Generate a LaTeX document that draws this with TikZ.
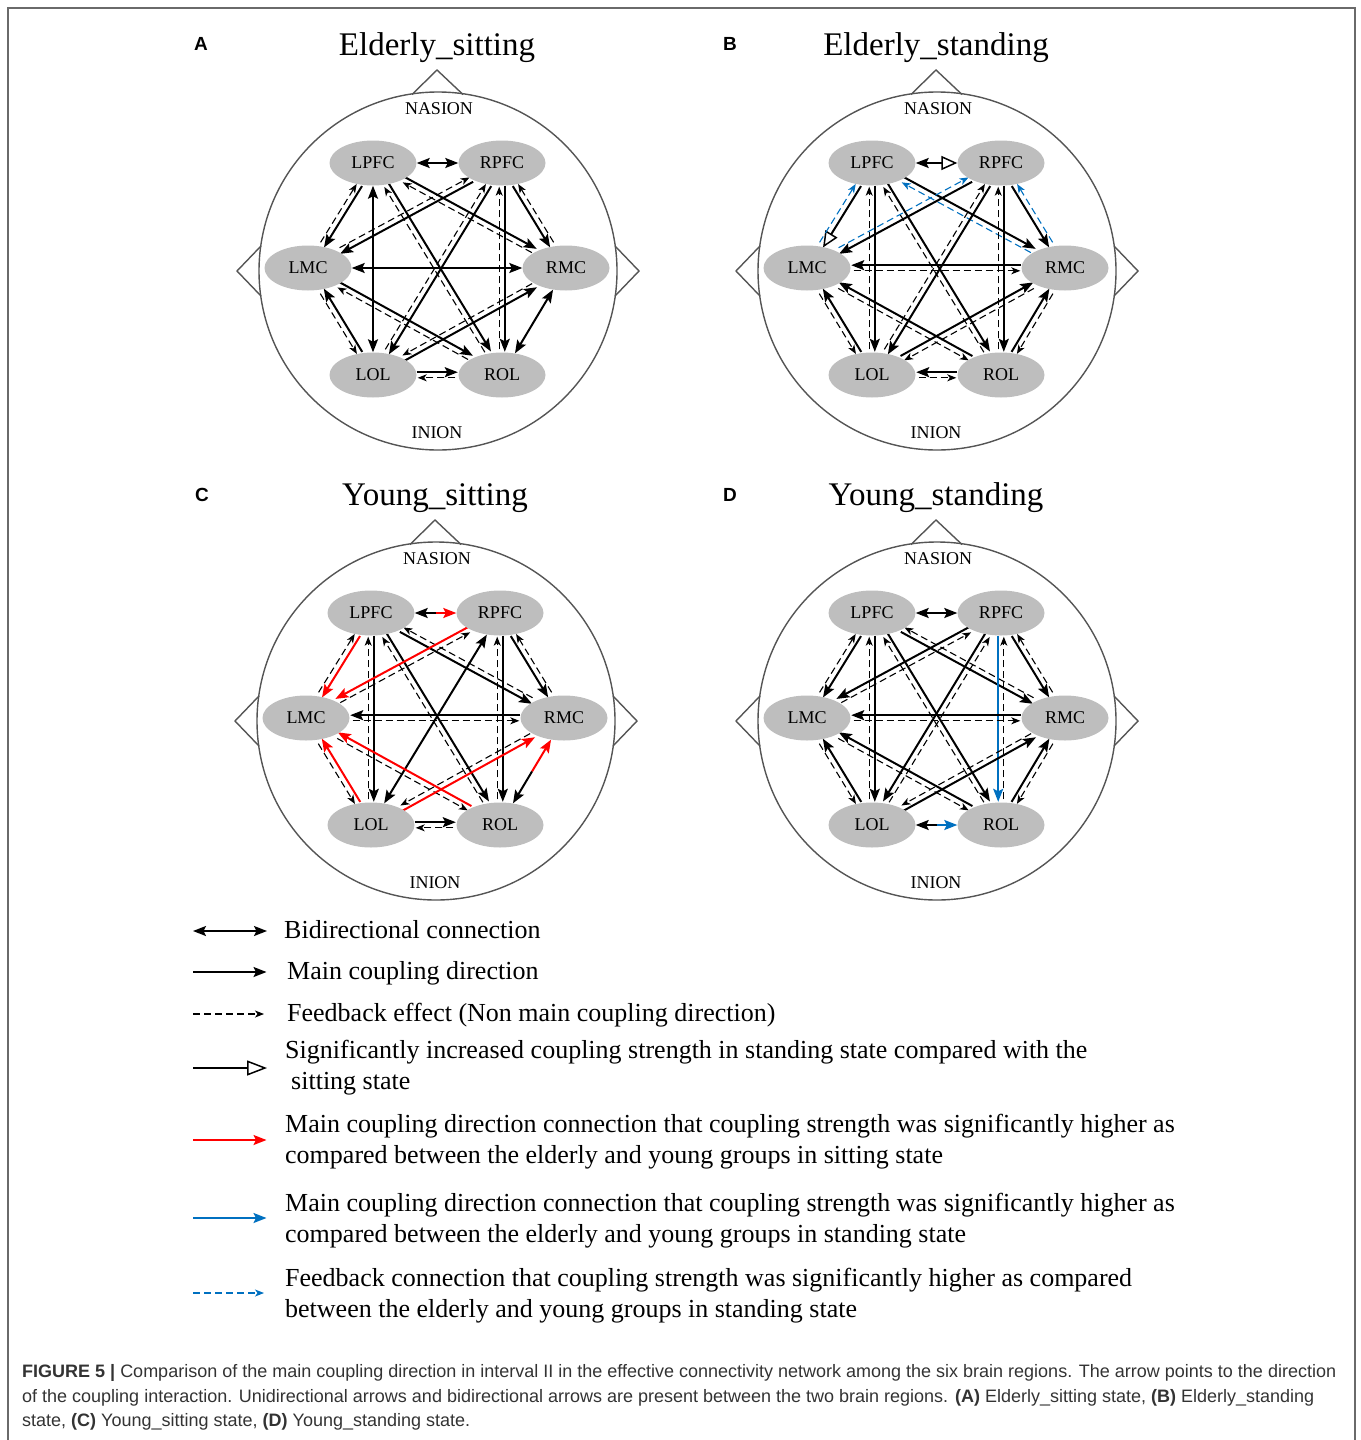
\documentclass[tikz,border=0pt]{standalone}
\usepackage{fontspec}
\setmainfont{Liberation Serif}
\setsansfont{Liberation Sans}
\usetikzlibrary{arrows.meta,calc,shapes.geometric,backgrounds}
\definecolor{nodegray}{HTML}{BEBEBE}
\definecolor{headgray}{HTML}{555555}
\definecolor{framegray}{HTML}{6A6A6A}
\definecolor{sigred}{HTML}{FF0000}
\definecolor{sigblue}{HTML}{0070C0}
\definecolor{captxt}{HTML}{333333}
\tikzset{
  region/.style={ellipse, fill=nodegray, minimum width=87pt, minimum height=45pt, inner sep=0pt, font=\fontsize{18}{20}\selectfont},
  headln/.style={draw=headgray, line width=1.4pt},
  landmark/.style={inner sep=0pt, font=\fontsize{18}{20}\selectfont},
  titletx/.style={inner sep=0pt, font=\fontsize{33}{36}\selectfont},
  panlet/.style={inner sep=0pt, font=\sffamily\bfseries\fontsize{19}{22}\selectfont},
  maintip/.tip={Stealth[length=13pt,width=10pt,inset=2.5pt]},
  fbtip/.tip={Stealth[length=9pt,width=7pt,inset=2.5pt]},
  mainln/.style={line width=2pt, -maintip, shorten >=0.5pt},
  fbln/.style={line width=1.1pt, dash pattern=on 7pt off 4pt, -fbtip, shorten <=3pt, shorten >=1pt},
  biarr/.style={line width=2pt, maintip-maintip},
  halfarr/.style={line width=2pt, -maintip},
  hollowtip/.style={-{Triangle[open,fill=white,length=16pt,width=14pt,line width=1.5pt]}},
  legtx/.style={anchor=base west, inner sep=0pt, font=\fontsize{26}{31}\selectfont},
  captx/.style={anchor=base west, inner sep=0pt, text=captxt, font=\sffamily\fontsize{18}{24}\selectfont},
}
% main arrow #1->#2 (style #3) with feedback #2->#1 (style #4); #5 = side of feedback (+1 left, -1 right)
\newcommand\pairln[5]{%
  \pgfmathsetmacro\offS{-2.8*#5}%
  \pgfmathsetmacro\offD{2.8*#5}%
  \path (#1) -- coordinate[pos=0] (ps) coordinate[pos=1] (pe) (#2);
  \draw[mainln,#3] ($(ps)!{\offS pt}!90:(pe)$) -- ($(pe)!{\offS pt}!-90:(ps)$);
  \draw[fbln,#4] ($(pe)!{\offD pt}!-90:(ps)$) -- ($(ps)!{\offD pt}!90:(pe)$);
}
\newcommand\biln[3][]{\draw[biarr,#1] (#2) -- (#3);}
\newcommand\bihalf[4]{%
  \path (#1) -- coordinate[pos=0] (ps) coordinate[pos=0.5] (pm) coordinate[pos=1] (pe) (#2);
  \draw[halfarr,#3] (pm) -- (ps);
  \draw[halfarr,#4] (pm) -- (pe);
}
\newcommand\headpanel[1]{%
  \draw[headln] (438,271) circle[radius=179pt];
  \draw[headln] (412,94.5) -- (437,70) -- (463,94.5);
  \draw[headln] (261,246) -- (237,271) -- (261,296);
  \draw[headln] (615,246) -- (639,271) -- (615,296);
  \node[landmark, anchor=base] (nasion) at (439,114) {NASION};
  \node[landmark, anchor=base] (inion) at (437,438) {INION};
  \node[titletx, anchor=base] (title) at (437,55) {#1};
  \node[region] (LPFC) at (373,163) {LPFC};
  \node[region] (RPFC) at (502,163) {RPFC};
  \node[region] (LMC) at (308,268) {LMC};
  \node[region] (RMC) at (566,268) {RMC};
  \node[region] (LOL) at (373,375) {LOL};
  \node[region] (ROL) at (502,375) {ROL};
}
\begin{document}
\begin{tikzpicture}[x=1pt,y=-1pt]
\useasboundingbox (0,0) rectangle (1360,1440);
\draw[draw=framegray, line width=1.5pt] (8,1440) -- (8,8) -- (1355,8) -- (1355,1440);
% panel letters
\node[panlet] (labA) at (201,44) {A};
\node[panlet] (labB) at (730,44) {B};
\node[panlet] (labC) at (202,495) {C};
\node[panlet] (labD) at (730,495) {D};
% ---------- A ----------
\begin{scope}[name prefix=A-]
\headpanel{Elderly\_sitting}
\begin{pgfonlayer}{background}
\biln{LPFC}{RPFC}
\pairln{LPFC}{LMC}{}{}{-1}
\biln{LPFC}{LOL}
\pairln{LPFC}{ROL}{}{}{-1}
\pairln{LPFC}{RMC}{}{}{-1}
\pairln{RPFC}{LMC}{}{}{-1}
\pairln{RPFC}{LOL}{}{}{-1}
\pairln{RPFC}{ROL}{}{}{-1}
\pairln{RPFC}{RMC}{}{}{1}
\biln{LMC}{RMC}
\pairln{LOL}{LMC}{}{}{1}
\pairln{LMC}{ROL}{}{}{-1}
\pairln{LOL}{RMC}{}{}{1}
\biln{RMC}{ROL}
\pairln{LOL}{ROL}{}{}{-1}
\end{pgfonlayer}
\end{scope}
% ---------- B ----------
\begin{scope}[shift={(499,0)}, name prefix=B-]
\headpanel{Elderly\_standing}
\begin{pgfonlayer}{background}
\draw[line width=2pt, maintip-{Triangle[open,fill=white,length=16pt,width=14pt,line width=1.5pt]}] (LPFC) -- (RPFC);
\pairln{LPFC}{LMC}{hollowtip}{sigblue}{-1}
\pairln{LPFC}{LOL}{}{}{-1}
\pairln{LPFC}{ROL}{}{}{-1}
\pairln{LPFC}{RMC}{}{sigblue}{-1}
\pairln{RPFC}{LMC}{}{sigblue}{-1}
\pairln{RPFC}{LOL}{}{}{-1}
\pairln{RPFC}{ROL}{}{}{-1}
\pairln{RPFC}{RMC}{}{sigblue}{1}
\pairln{RMC}{LMC}{}{}{1}
\pairln{LOL}{LMC}{}{}{1}
\pairln{ROL}{LMC}{}{}{1}
\pairln{LOL}{RMC}{}{}{-1}
\pairln{ROL}{RMC}{}{}{-1}
\pairln{ROL}{LOL}{}{}{1}
\end{pgfonlayer}
\end{scope}
% ---------- C ----------
\begin{scope}[shift={(-2,450)}, name prefix=C-]
\headpanel{Young\_sitting}
\begin{pgfonlayer}{background}
\bihalf{LPFC}{RPFC}{black}{sigred}
\pairln{LPFC}{LMC}{sigred}{}{-1}
\pairln{LPFC}{LOL}{}{}{-1}
\pairln{LPFC}{ROL}{}{}{-1}
\pairln{LPFC}{RMC}{}{}{1}
\pairln{RPFC}{LMC}{sigred}{}{1}
\biln{RPFC}{LOL}
\pairln{RPFC}{ROL}{}{}{-1}
\pairln{RPFC}{RMC}{}{}{1}
\pairln{RMC}{LMC}{}{}{1}
\pairln{LOL}{LMC}{sigred}{}{1}
\pairln{ROL}{LMC}{sigred}{}{1}
\pairln{LOL}{RMC}{sigred}{}{1}
\bihalf{RMC}{ROL}{sigred}{black}
\pairln{LOL}{ROL}{}{}{-1}
\end{pgfonlayer}
\end{scope}
% ---------- D ----------
\begin{scope}[shift={(499,450)}, name prefix=D-]
\headpanel{Young\_standing}
\begin{pgfonlayer}{background}
\biln{LPFC}{RPFC}
\pairln{LPFC}{LMC}{}{}{-1}
\pairln{LPFC}{LOL}{}{}{-1}
\pairln{LPFC}{ROL}{}{}{-1}
\pairln{LPFC}{RMC}{}{}{1}
\pairln{RPFC}{LMC}{}{}{1}
\pairln{RPFC}{LOL}{}{}{1}
\pairln{RPFC}{ROL}{sigblue}{}{1}
\pairln{RPFC}{RMC}{}{}{1}
\pairln{RMC}{LMC}{}{}{1}
\pairln{LOL}{LMC}{}{}{1}
\pairln{ROL}{LMC}{}{}{1}
\pairln{LOL}{RMC}{}{}{1}
\pairln{ROL}{RMC}{}{}{-1}
\bihalf{LOL}{ROL}{black}{sigblue}
\end{pgfonlayer}
\end{scope}
% ---------- legend ----------
\coordinate (l1s) at (193,931); \coordinate (l1e) at (267,931);
\coordinate (l2s) at (193,972); \coordinate (l2e) at (267,972);
\coordinate (l3s) at (193,1014); \coordinate (l3e) at (265,1014);
\coordinate (l4s) at (193,1068); \coordinate (l4e) at (267,1068);
\coordinate (l5s) at (193,1140); \coordinate (l5e) at (267,1140);
\coordinate (l6s) at (193,1218); \coordinate (l6e) at (267,1218);
\coordinate (l7s) at (193,1293); \coordinate (l7e) at (265,1293);
\draw[biarr] (l1s) -- (l1e);
\draw[mainln] (l2s) -- (l2e);
\draw[fbln, shorten <=0pt] (l3s) -- (l3e);
\draw[line width=2pt, -{Triangle[open,fill=white,length=20pt,width=15pt,line width=1.5pt]}] (l4s) -- (l4e);
\draw[mainln, sigred] (l5s) -- (l5e);
\draw[mainln, sigblue] (l6s) -- (l6e);
\draw[fbln, sigblue, shorten <=0pt] (l7s) -- (l7e);
\node[legtx] (t1) at (284,938) {Bidirectional connection};
\node[legtx] (t2) at (287,979) {Main coupling direction};
\node[legtx] (t3) at (287,1021) {Feedback effect (Non main coupling direction)};
\node[legtx] (t4a) at (285,1058) {Significantly increased coupling strength in standing state compared with the};
\node[legtx] (t4b) at (291,1089) {sitting state};
\node[legtx] (t5a) at (285,1132) {Main coupling direction connection that coupling strength was significantly higher as};
\node[legtx] (t5b) at (285,1163) {compared between the elderly and young groups in sitting state};
\node[legtx] (t6a) at (285,1211) {Main coupling direction connection that coupling strength was significantly higher as};
\node[legtx] (t6b) at (285,1242) {compared between the elderly and young groups in standing state};
\node[legtx] (t7a) at (285,1286) {Feedback connection that coupling strength was significantly higher as compared};
\node[legtx] (t7b) at (285,1317) {between the elderly and young groups in standing state};
% ---------- caption ----------
\node[captx] (c1) at (22,1377.5) {\textbf{FIGURE 5 |} Comparison of the main coupling direction in interval II in the effective connectivity network among the six brain regions. The arrow points to the direction};
\node[captx] (c2) at (22,1402.5) {of the coupling interaction. Unidirectional arrows and bidirectional arrows are present between the two brain regions. \textbf{(A)} Elderly\_sitting state, \textbf{(B)} Elderly\_standing};
\node[captx] (c3) at (22,1426.5) {state, \textbf{(C)} Young\_sitting state, \textbf{(D)} Young\_standing state.};
\end{tikzpicture}
\end{document}
